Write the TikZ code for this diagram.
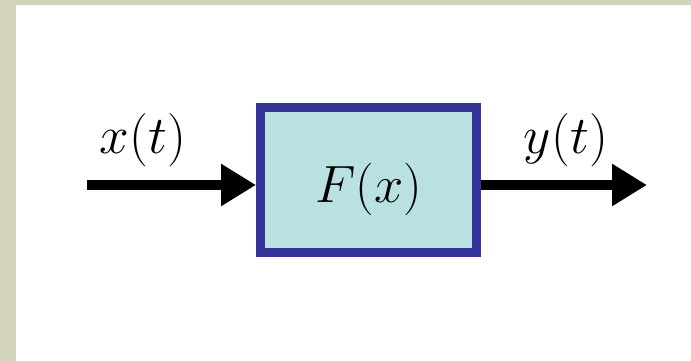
\documentclass[tikz,border=0pt]{standalone}
\usepackage{amsmath}
\usepackage{graphicx}
\usepackage{xcolor}
\usepackage{tikz}
\usetikzlibrary{arrows.meta,positioning}
\definecolor{framec}{HTML}{33339A}
\definecolor{boxbg}{HTML}{B9E1E1}
\definecolor{edgec}{HTML}{D3D3BD}
\tikzset{
  ar/.style={-{Triangle[length=0.7cm,width=0.8cm]},line width=0.2cm,black},
  blk/.style={draw=framec,line width=0.18cm,fill=boxbg,minimum width=4.32cm,minimum height=2.9cm,inner sep=0pt},
  lb/.style={font=\Huge,inner sep=0pt,anchor=base,scale=1.22},
  fn/.style={font=\Huge,inner sep=0pt,anchor=base,scale=1.2}
}
\begin{document}
\begin{tikzpicture}[x=0.02cm,y=-0.02cm]
% page and margin strip
\fill[edgec] (0,0) rectangle (691,361);
\fill[white] (16,5) rectangle (691,361);
\node[blk] (sys) at (368.5,180) {};
\node[fn] (fx) at ([yshift=-0.46cm]sys.center) {$F(x)$};
\coordinate (in) at (87,185);
\coordinate (out) at (647,185);
\draw[ar] (in) -- (in -| sys.west);
\draw[ar] (sys.east |- out) -- (out);
\node[lb] (xt) at (143,154) {$x(t)$};
\node[lb] (yt) at (566,154) {$y(t)$};
\end{tikzpicture}
\end{document}
